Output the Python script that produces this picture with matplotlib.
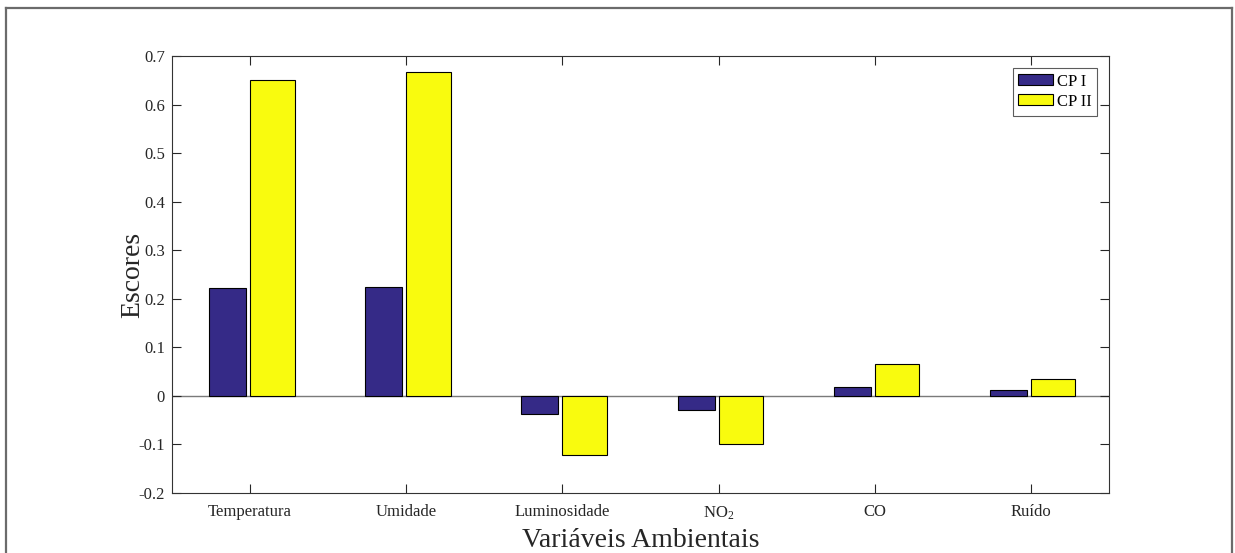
import numpy as np
import matplotlib
matplotlib.use("Agg")
import matplotlib.pyplot as plt
from matplotlib.ticker import FuncFormatter

plt.rcParams["font.family"] = ["Liberation Serif", "DejaVu Serif"]
plt.rcParams["mathtext.default"] = "regular"

# Data
categories = ["Temperatura", "Umidade", "Luminosidade", "NO$_2$", "CO", "Ruído"]
cp1 = [0.222, 0.224, -0.037, -0.029, 0.018, 0.012]
cp2 = [0.650, 0.667, -0.121, -0.100, 0.066, 0.034]
series_names = ["CP I", "CP II"]

BLUE = "#352A87"
YELLOW = "#F9FB0E"
AXC = "#262626"

fig = plt.figure(figsize=(12.35, 5.53), dpi=100)
ax = fig.add_axes([172 / 1235, 1 - 493 / 553, (1109 - 172) / 1235, (493 - 56) / 553])

# outer frame around the figure (open at the bottom)
frame_kw = dict(transform=fig.transFigure, color="#6b6b6b", lw=1.6)
fig.add_artist(plt.Line2D([6 / 1235, 6 / 1235], [0, 1 - 8 / 553], **frame_kw))
fig.add_artist(plt.Line2D([6 / 1235, 1232 / 1235], [1 - 8 / 553, 1 - 8 / 553], **frame_kw))
fig.add_artist(plt.Line2D([1232 / 1235, 1232 / 1235], [0, 1 - 8 / 553], **frame_kw))

x = np.arange(1, len(categories) + 1)
ax.bar(x - 0.263, cp1, 0.237, align="edge", color=BLUE, edgecolor="black",
       linewidth=0.8, label=series_names[0], zorder=2)
ax.bar(x, cp2, 0.285, align="edge", color=YELLOW, edgecolor="black",
       linewidth=0.8, label=series_names[1], zorder=2)
ax.axhline(0, color="#7a7a7a", lw=1.0, zorder=1)

ax.set_xlim(0.5, 6.5)
ax.set_ylim(-0.2, 0.7)
ax.set_xticks(x)
ax.set_xticklabels(categories, fontsize=12, color=AXC)
ax.set_yticks(np.arange(-0.2, 0.71, 0.1))
ax.yaxis.set_major_formatter(FuncFormatter(lambda v, p: ("%g" % round(v, 1))))
ax.tick_params(axis="both", direction="in", length=6.5, width=0.8, top=True, right=True,
               labelsize=12, colors=AXC)
ax.tick_params(axis="x", pad=8)
ax.tick_params(axis="y", pad=5)
for s in ax.spines.values():
    s.set_color("#333333")
    s.set_linewidth(0.8)

ax.set_xlabel("Variáveis Ambientais", fontsize=20, color=AXC, labelpad=5)
ax.set_ylabel("Escores", fontsize=20, color=AXC, labelpad=-5)

leg = ax.legend(loc="upper right", fontsize=12, fancybox=False, frameon=True,
                edgecolor="#333333", borderaxespad=0.7, handlelength=2.1, handleheight=0.65,
                handletextpad=0.2, borderpad=0.35, labelspacing=0.25)
leg.get_frame().set_linewidth(0.8)

fig.savefig("out.png", dpi=100)
